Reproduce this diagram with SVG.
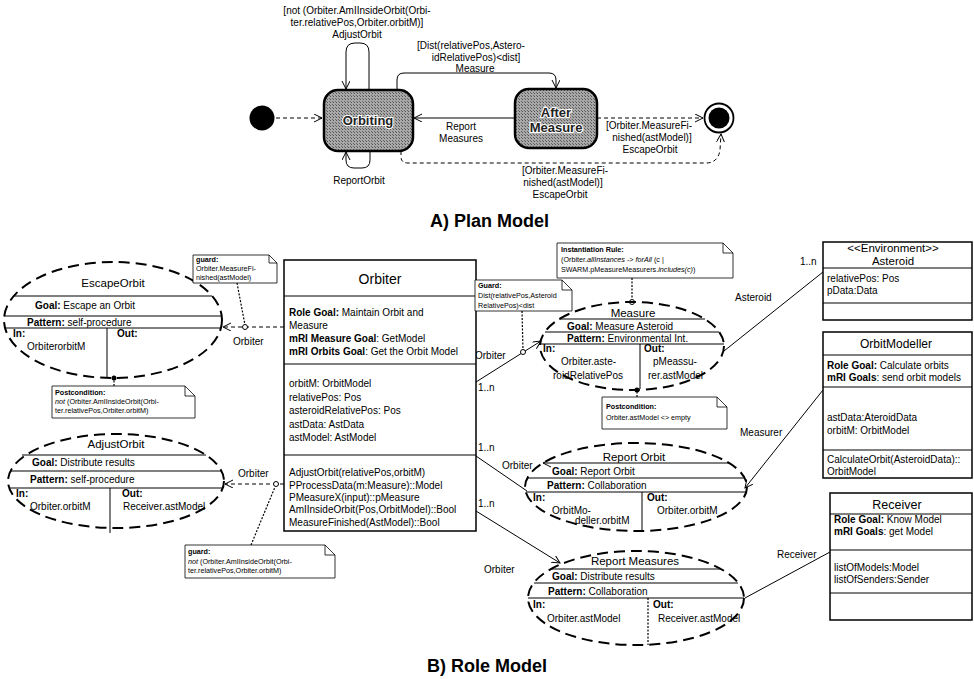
<svg xmlns="http://www.w3.org/2000/svg" width="974" height="679" viewBox="0 0 974 679">
<style>
text{font-family:"Liberation Sans",Arial,sans-serif;font-size:10px;fill:#000}
.b{font-weight:bold}
.i{font-style:italic}
.m{text-anchor:middle}
.n{font-size:7.2px}
.h{font-size:11.5px}
.ttl{font-size:18px;font-weight:bold}
.st{font-size:13px;font-weight:bold;fill:#222;stroke:#fff;stroke-width:2.2;paint-order:stroke;text-anchor:middle}
.ell{fill:none;stroke:#000;stroke-width:2;stroke-dasharray:11 6}
.ln{fill:none;stroke:#000;stroke-width:1}
.box{fill:#fff;stroke:#000;stroke-width:1.5}
.note{fill:#fff;stroke:#000;stroke-width:0.8}
.dot{fill:none;stroke:#000;stroke-width:1.2;stroke-dasharray:2 1.5}
.dsh{fill:none;stroke:#000;stroke-width:1;stroke-dasharray:4 3}
.state{fill:url(#hatch);stroke:#000;stroke-width:2.5}
</style>
<defs>
<pattern id="hatch" width="3" height="3" patternUnits="userSpaceOnUse">
<rect width="3" height="3" fill="#a8a8a8"/>
<rect width="1" height="1" fill="#555"/>
<rect x="2" y="2" width="1" height="1" fill="#666"/>
</pattern>
<marker id="arr" markerWidth="10" markerHeight="10" refX="8" refY="4" orient="auto" markerUnits="userSpaceOnUse">
<path d="M0,0 L8,4 L0,8" fill="none" stroke="#000" stroke-width="1"/>
</marker>
</defs>

<!-- ===== A) Plan Model ===== -->
<g id="initial"><circle cx="262" cy="118" r="12.5" fill="#000"/></g>
<g id="orbiting">
<rect class="state" x="324" y="90" width="89" height="61" rx="14"/>
<text class="st" x="368" y="125">Orbiting</text>
</g>
<g id="after-measure">
<rect class="state" x="515" y="89" width="82" height="59" rx="14"/>
<text class="st" x="556" y="117">After</text>
<text class="st" x="556" y="132">Measure</text>
</g>
<g id="final">
<circle cx="719" cy="118" r="14.5" fill="#fff" stroke="#000" stroke-width="1.8"/>
<circle cx="719" cy="118" r="10.5" fill="#000"/>
</g>

<g id="connectors">
<!-- plan model -->
<path class="dsh" d="M276,118 H322" marker-end="url(#arr)"/>
<path class="ln" d="M369,90 V52 Q369,43 360,43 H355 Q346,43 346,52 V89" marker-end="url(#arr)"/>
<path class="ln" d="M370,151 V160 Q370,168 362,168 H354 Q346,168 346,160 V152" marker-end="url(#arr)"/>
<path class="ln" d="M397,90 V80 Q397,73 404,73 H549 Q556,73 556,80 V88" marker-end="url(#arr)"/>
<path class="ln" d="M515,118 H414" marker-end="url(#arr)"/>
<path class="dsh" d="M597,118 H703" marker-end="url(#arr)"/>
<path class="dsh" d="M401,151 V157 Q401,163 408,163 H706 Q718,163 720,150 L721,134" marker-end="url(#arr)"/>
<!-- role model -->
<path class="dsh" d="M284,327 H223" marker-end="url(#arr)"/>
<path class="dsh" d="M284,484 H225" marker-end="url(#arr)"/>
<path class="ln" d="M476,382 L541,341" marker-end="url(#arr)"/>
<path class="ln" d="M476,456 L527,491"/>
<path class="ln" d="M476,511 L560,563" marker-end="url(#arr)"/>
<path class="ln" d="M823,272 L724,351"/>
<path class="ln" d="M823,390 L745,488" marker-end="url(#arr)"/>
<path class="ln" d="M830,552 L745,598"/>
<!-- note anchors -->
<path class="dot" d="M237,283 L245,325"/>
<circle cx="245" cy="327" r="2.5" fill="#fff" stroke="#000"/>
<path class="dot" d="M114,386 V379"/>
<circle cx="114" cy="378" r="2.5" fill="#000"/>
<path class="dot" d="M251,545 L275,487"/>
<circle cx="276" cy="484" r="2.5" fill="#fff" stroke="#000"/>
<path class="dot" d="M522,311 L523,350"/>
<circle cx="523" cy="352" r="2.5" fill="#fff" stroke="#000"/>
<path class="dot" d="M632,278 V300"/>
<circle cx="632" cy="302" r="2.5" fill="#fff" stroke="#000"/>
<path class="dot" d="M637,397 V392"/>
<circle cx="637" cy="390" r="2.5" fill="#000"/>
<!-- labels -->
<text class="m" x="357" y="14">[not (Orbiter.AmIInsideOrbit(Orbi-</text>
<text class="m" x="357" y="26">ter.relativePos,Orbiter.orbitM)]</text>
<text class="m" x="357" y="38">AdjustOrbit</text>
<text class="m" x="471" y="49">[Dist(relativePos,Astero-</text>
<text class="m" x="476" y="61">idRelativePos)&lt;dist]</text>
<text class="m" x="475" y="72">Measure</text>
<text class="m" x="461" y="130">Report</text>
<text class="m" x="461" y="142">Measures</text>
<text class="m" x="649" y="129">[Orbiter.MeasureFi-</text>
<text class="m" x="652" y="141">nished(astModel)]</text>
<text class="m" x="650" y="153">EscapeOrbit</text>
<text class="m" x="565" y="174">[Orbiter.MeasureFi-</text>
<text class="m" x="563" y="186">nished(astModel)]</text>
<text class="m" x="560" y="198">EscapeOrbit</text>
<text class="m" x="359" y="184">ReportOrbit</text>
<text x="233" y="345">Orbiter</text>
<text x="238" y="477">Orbiter</text>
<text x="475" y="359">Orbiter</text>
<text x="478" y="391">1..n</text>
<text x="478" y="451">1..n</text>
<text x="502" y="469">Orbiter</text>
<text x="478" y="507">1..n</text>
<text x="484" y="573">Orbiter</text>
<text x="735" y="301">Asteroid</text>
<text x="800" y="265">1..n</text>
<text x="740" y="436">Measurer</text>
<text x="777" y="558">Receiver</text>
</g>

<text class="ttl" x="430" y="227">A) Plan Model</text>

<!-- ===== B) Role Model ===== -->
<g id="escape-orbit">
<ellipse class="ell" cx="113" cy="320" rx="109" ry="58"/>
<path class="ln" d="M14,296 H212 M4,316 H222 M5,328 H221 M107,328 V378"/>
<text class="m h" x="113" y="287">EscapeOrbit</text>
<text x="35" y="309"><tspan class="b">Goal:</tspan> Escape an Orbit</text>
<text x="27" y="325.5"><tspan class="b">Pattern:</tspan> self-procedure</text>
<text class="b" x="13" y="337">In:</text>
<text class="b" x="117" y="337">Out:</text>
<text x="27" y="350">OrbiterorbitM</text>
</g>

<g id="guard-escape">
<path class="note" d="M193,255 H269 L277,263 V283 H193 Z M269,255 V263 H277"/>
<text class="n b" x="196" y="262">guard:</text>
<text class="n" x="196" y="271">Orbiter.MeasureFi-</text>
<text class="n" x="196" y="280">nished(astModel)</text>
</g>

<g id="post-escape">
<path class="note" d="M52,386 H185 L195,396 V418 H52 Z M185,386 V396 H195"/>
<text class="n b" x="55" y="395">Postcondition:</text>
<text class="n" x="55" y="404"><tspan class="i">not</tspan> (Orbiter.AmIInsideOrbit(Orbi-</text>
<text class="n" x="55" y="413">ter.relativePos,Orbiter.orbitM)</text>
</g>

<g id="adjust-orbit">
<ellipse class="ell" cx="116" cy="481" rx="108" ry="47"/>
<path class="ln" d="M22,455 H206 M10,471 H222 M9,488 H223 M110,488 V533"/>
<text class="m h" x="116" y="448">AdjustOrbit</text>
<text x="32" y="466"><tspan class="b">Goal:</tspan> Distribute results</text>
<text x="30" y="483"><tspan class="b">Pattern:</tspan> self-procedure</text>
<text class="b" x="16" y="497">In:</text>
<text class="b" x="122" y="497">Out:</text>
<text x="30" y="510">Orbiter.orbitM</text>
<text x="123" y="510">Receiver.astModel</text>
</g>

<g id="guard-adjust">
<path class="note" d="M185,545 H325 L335,555 V578 H185 Z M325,545 V555 H335"/>
<text class="n b" x="188" y="554">guard:</text>
<text class="n" x="188" y="564"><tspan class="i">not</tspan> (Orbiter.AmIInsideOrbit(Orbi-</text>
<text class="n" x="188" y="573">ter.relativePos,Orbiter.orbitM)</text>
</g>

<g id="orbiter">
<rect class="box" x="284" y="260" width="192" height="271"/>
<path class="ln" d="M284,296 H476 M284,364 H476 M284,455 H476" stroke-width="1.2"/>
<text class="m" x="380" y="284" style="font-size:14px">Orbiter</text>
<text x="289" y="316"><tspan class="b">Role Goal:</tspan> Maintain Orbit and</text>
<text x="289" y="329">Measure</text>
<text x="289" y="342"><tspan class="b">mRI Measure Goal</tspan>: GetModel</text>
<text x="289" y="355"><tspan class="b">mRI Orbits Goal</tspan>: Get the Orbit Model</text>
<text x="289" y="387">orbitM: OrbitModel</text>
<text x="289" y="400.5">relativePos: Pos</text>
<text x="289" y="414">asteroidRelativePos: Pos</text>
<text x="289" y="427.5">astData: AstData</text>
<text x="289" y="441">astModel: AstModel</text>
<text x="289" y="476">AdjustOrbit(relativePos,orbitM)</text>
<text x="289" y="489">PProcessData(m:Measure)::Model</text>
<text x="289" y="501">PMeasureX(input)::pMeasure</text>
<text x="289" y="513">AmIInsideOrbit(Pos,OrbitModel)::Bool</text>
<text x="289" y="526">MeasureFinished(AstModel)::Bool</text>
</g>

<g id="guard-measure">
<path class="note" d="M475,280 H562 L572,290 V311 H475 Z M562,280 V290 H572"/>
<text class="n b" x="478" y="288">Guard:</text>
<text class="n" x="478" y="298">Dist(relativePos,Asteroid</text>
<text class="n" x="478" y="308">RelativePos)&lt;dist</text>
</g>

<g id="instantiation-rule">
<path class="note" d="M557,243 H723 L733,253 V278 H557 Z M723,243 V253 H733"/>
<text class="n b" x="561" y="252">Instantiation Rule:</text>
<text class="n" x="561" y="262">(Orbiter.<tspan class="i">allInstances</tspan> -&gt; <tspan class="i">forAll</tspan> (c |</text>
<text class="n" x="561" y="272">SWARM.pMeasureMeasurers.<tspan class="i">includes(c)</tspan>)</text>
</g>

<g id="measure">
<ellipse class="ell" cx="632" cy="346" rx="92" ry="44"/>
<path class="ln" d="M559,319 H705 M545,332 H719 M540,344 H724 M640,344 V389"/>
<text class="m h" x="633" y="317">Measure</text>
<text x="567" y="329.5"><tspan class="b">Goal:</tspan> Measure Asteroid</text>
<text x="567" y="342"><tspan class="b">Pattern:</tspan> Environmental Int.</text>
<text class="b" x="543" y="352">In:</text>
<text class="b" x="644" y="352">Out:</text>
<text x="561" y="365">Orbiter.aste-</text>
<text x="553" y="379">roidRelativePos</text>
<text x="653" y="365">pMeassu-</text>
<text x="648" y="379">rer.astModel</text>
</g>

<g id="post-measure">
<path class="note" d="M602,397 H717 L727,407 V429 H602 Z M717,397 V407 H727"/>
<text class="n b" x="606" y="409">Postcondition:</text>
<text class="n" x="606" y="420">Orbiter.astModel &lt;&gt; empty</text>
</g>

<g id="report-orbit">
<ellipse class="ell" cx="636" cy="487" rx="111" ry="44"/>
<path class="ln" d="M543,463 H729 M527,478 H745 M526,492 H746 M642,492 V531"/>
<path class="ln" d="M551,459 L543,463 L551,467"/>
<text class="m h" x="634" y="461">Report Orbit</text>
<text x="552" y="475"><tspan class="b">Goal:</tspan> Report Orbit</text>
<text x="547" y="489"><tspan class="b">Pattern:</tspan> Collaboration</text>
<text class="b" x="533" y="501">In:</text>
<text class="b" x="647" y="501">Out:</text>
<text x="552" y="514">OrbitMo-</text>
<text x="575" y="524">deller.orbitM</text>
<text x="657" y="514">Orbiter.orbitM</text>
</g>

<g id="report-measures">
<ellipse class="ell" cx="636" cy="598" rx="108" ry="47"/>
<path class="ln" d="M551,569 H721 M534,583 H738 M528,598 H744"/>
<path class="dot" d="M648,598 V645" stroke-width="0.8"/>
<text class="m h" x="635" y="565">Report Measures</text>
<text x="552" y="580"><tspan class="b">Goal:</tspan> Distribute results</text>
<text x="548" y="595"><tspan class="b">Pattern:</tspan> Collaboration</text>
<text class="b" x="533" y="608">In:</text>
<text class="b" x="653" y="608">Out:</text>
<text x="547" y="622">Orbiter.astModel</text>
<text x="658" y="622">Receiver.astModel</text>
</g>

<g id="asteroid">
<rect class="box" x="823" y="242" width="149" height="78"/>
<path class="ln" d="M823,268 H972 M823,303 H972" stroke-width="1.2"/>
<text class="m" x="893" y="252" style="font-size:11.5px">&lt;&lt;Environment&gt;&gt;</text>
<text class="m" x="893" y="265" style="font-size:11.5px">Asteroid</text>
<text x="827" y="282">relativePos: Pos</text>
<text x="827" y="294">pData:Data</text>
</g>

<g id="orbitmodeller">
<rect class="box" x="823" y="332" width="149" height="146"/>
<path class="ln" d="M823,355 H972 M823,387 H972 M823,450 H972" stroke-width="1.2"/>
<text class="m" x="896" y="348" style="font-size:12px">OrbitModeller</text>
<text x="827" y="369"><tspan class="b">Role Goal:</tspan> Calculate orbits</text>
<text x="827" y="381"><tspan class="b">mRI Goals</tspan>: send orbit models</text>
<text x="827" y="421">astData:AteroidData</text>
<text x="827" y="434">orbitM: OrbitModel</text>
<text x="827" y="463">CalculateOrbit(AsteroidData)::</text>
<text x="827" y="475">OrbitModel</text>
</g>

<g id="receiver">
<rect class="box" x="830" y="493" width="142" height="127"/>
<path class="ln" d="M830,514 H972 M830,550 H972 M830,593 H972" stroke-width="1.2"/>
<text class="m" x="897" y="509" style="font-size:12.5px">Receiver</text>
<text x="834" y="523"><tspan class="b">Role Goal:</tspan> Know Model</text>
<text x="834" y="535"><tspan class="b">mRI Goals</tspan>: get Model</text>
<text x="834" y="571">listOfModels:Model</text>
<text x="834" y="583">listOfSenders:Sender</text>
</g>

<text class="ttl" x="487" y="672" text-anchor="middle">B) Role Model</text>
</svg>
